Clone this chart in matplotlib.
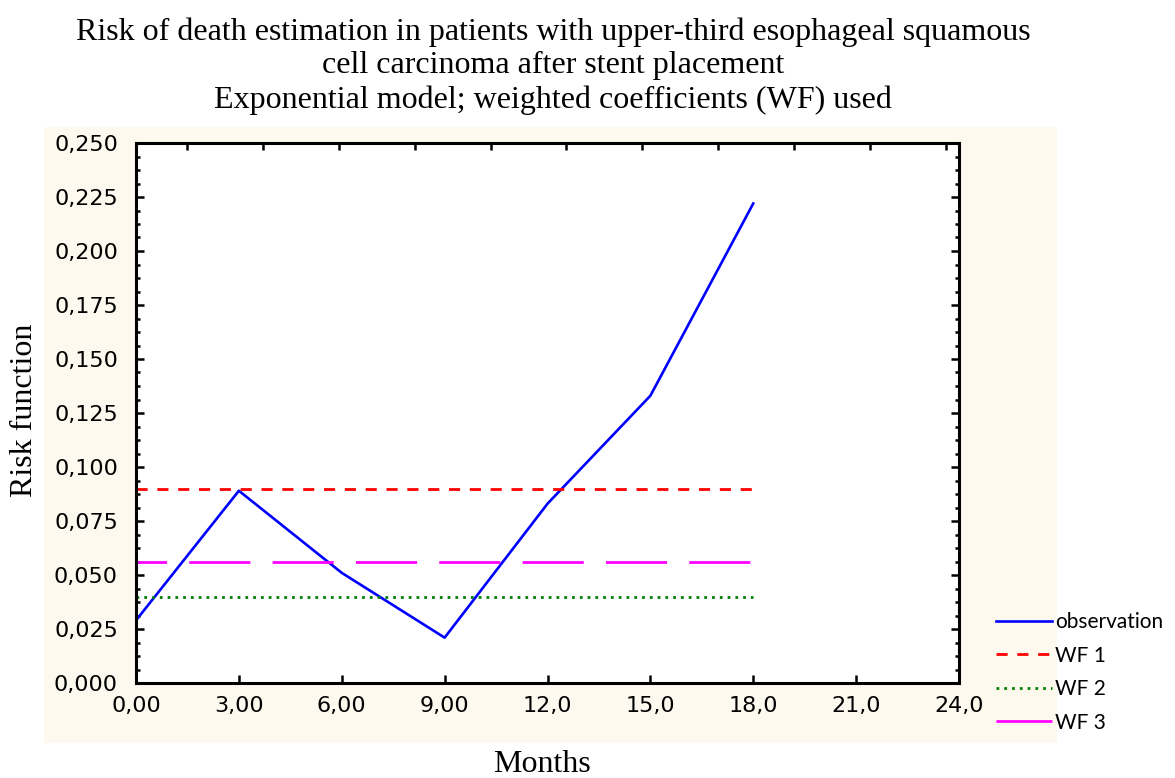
import numpy as np
import matplotlib
matplotlib.use("Agg")
import matplotlib.pyplot as plt
from matplotlib.patches import Rectangle
from matplotlib.lines import Line2D
from matplotlib.ticker import MultipleLocator

months = [0, 3, 6, 9, 12, 15, 18]
observation = [0.029, 0.089, 0.051, 0.021, 0.083, 0.133, 0.222]
wf1 = [0.090] * 7
wf2 = [0.040] * 7
wf3 = [0.056] * 7

xticks = [0, 3, 6, 9, 12, 15, 18, 21, 24]
xticklabels = ["0,00", "3,00", "6,00", "9,00", "12,0", "15,0", "18,0", "21,0", "24,0"]
yticks = [0.0, 0.025, 0.05, 0.075, 0.1, 0.125, 0.15, 0.175, 0.2, 0.225, 0.25]
yticklabels = ["0,000", "0,025", "0,050", "0,075", "0,100", "0,125",
               "0,150", "0,175", "0,200", "0,225", "0,250"]

title = ("Risk of death estimation in patients with upper-third esophageal squamous\n"
         "cell carcinoma after stent placement\n"
         "Exponential model; weighted coefficients (WF) used")

serif = "Liberation Serif"
sans = "DejaVu Sans"

fig = plt.figure(figsize=(11.75, 7.78), dpi=100)
fig.patch.set_facecolor("white")
fig.patches.append(Rectangle((44 / 1175, 1 - 743 / 778), (1057 - 44) / 1175, (743 - 127) / 778,
                             transform=fig.transFigure, facecolor="#fdf9ee",
                             edgecolor="none", zorder=-10))

ax = fig.add_axes([136 / 1175, 1 - 683 / 778, 823 / 1175, 540 / 778])
ax.set_facecolor("white")

l1, = ax.plot(months, observation, color="#0000ff", lw=1.9)
l2, = ax.plot(months, wf1, color="#ff0000", lw=2, ls=(0, (4, 3.5)))
l3, = ax.plot(months, wf2, color="#008000", lw=2, ls=(0, (1, 1.8)))
l4, = ax.plot(months, wf3, color="#ff00ff", lw=2, ls=(11, (22, 8)))

ax.set_xlim(0, 24)
ax.set_ylim(0, 0.25)
ax.set_xticks(xticks)
ax.set_xticklabels(xticklabels, fontfamily=sans, fontsize=16)
ax.set_yticks(yticks)
ax.set_yticklabels(yticklabels, fontfamily=sans, fontsize=16)
ax.yaxis.set_minor_locator(MultipleLocator(0.00625))
ax.tick_params(which="both", direction="in", width=1.8)
ax.tick_params(which="major", length=6)
ax.tick_params(axis="y", which="major", pad=13)
ax.tick_params(axis="x", which="major", pad=9)
ax.tick_params(which="minor", length=3)
ax.tick_params(axis="y", which="both", right=True)
for s in ax.spines.values():
    s.set_linewidth(2.2)

# odd top ticks as in the original
top = ax.twiny()
top.set_xlim(0, 1)
top.set_xticks(np.arange(11) * 0.0922 + 0.062)
top.set_xticklabels([])
top.tick_params(direction="in", length=5, width=1.8)
for s in top.spines.values():
    s.set_visible(False)

fig.text(553 / 1175, 1 - 66 / 778, title, ha="center", va="center",
         fontfamily=serif, fontsize=23, linespacing=1.22)
fig.text(542 / 1175, 1 - 765 / 778, "Months", ha="center", va="center",
         fontfamily=serif, fontsize=23)
fig.text(25 / 1175, 1 - 410 / 778, "Risk function", ha="center", va="center",
         rotation=90, fontfamily=serif, fontsize=23)

# legend sample for WF 3 shows one solid dash
wf3_key = Line2D([], [], color="#ff00ff", lw=2, ls=(0, (22, 8)))
fig.legend([l1, l2, l3, wf3_key], ["observation", "WF 1", "WF 2", "WF 3"],
           loc="upper left", bbox_to_anchor=(996 / 1175, 1 - 612 / 778),
           frameon=False, handlelength=2.7, handletextpad=0.15,
           labelspacing=0.65, borderpad=0, borderaxespad=0,
           prop={"family": "Lato", "size": 15})

fig.savefig("out.png", dpi=100)
